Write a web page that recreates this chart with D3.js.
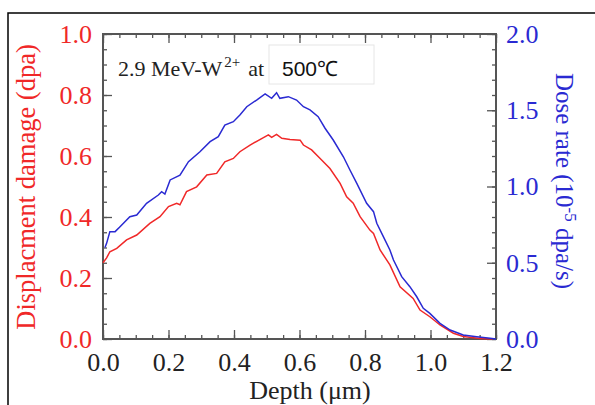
<!DOCTYPE html>
<html>
<head>
<meta charset="utf-8">
<script src="https://cdn.jsdelivr.net/npm/d3@7"></script>
<style>
  body { margin: 0; background: #fff; }
  svg { display: block; }
</style>
</head>
<body>
<div id="chart"></div>
<script>
// displacement damage (left axis, dpa)
var dmgDepth = [0, 0.011, 0.021, 0.042, 0.072, 0.103, 0.143, 0.174, 0.2, 0.225, 0.235, 0.255, 0.286, 0.317, 0.347, 0.372, 0.398, 0.418, 0.449, 0.479, 0.505, 0.515, 0.530, 0.546, 0.571, 0.602, 0.612, 0.637, 0.663, 0.693, 0.724, 0.744, 0.764, 0.785, 0.815, 0.826, 0.846, 0.876, 0.907, 0.947, 0.968, 0.998, 1.029, 1.070, 1.100, 1.151, 1.19];
var dmgValue = [0.25, 0.266, 0.286, 0.297, 0.325, 0.341, 0.379, 0.401, 0.434, 0.445, 0.440, 0.483, 0.499, 0.538, 0.543, 0.581, 0.592, 0.614, 0.636, 0.654, 0.669, 0.661, 0.671, 0.658, 0.654, 0.652, 0.636, 0.620, 0.592, 0.559, 0.510, 0.466, 0.445, 0.401, 0.357, 0.346, 0.292, 0.243, 0.171, 0.133, 0.095, 0.073, 0.046, 0.019, 0.008, 0.002, 0];

// dose rate (right axis, 10^-5 dpa/s)
var rateDepth = [0.006, 0.011, 0.021, 0.037, 0.052, 0.082, 0.103, 0.133, 0.169, 0.179, 0.189, 0.205, 0.235, 0.261, 0.296, 0.327, 0.352, 0.372, 0.398, 0.418, 0.439, 0.469, 0.495, 0.515, 0.530, 0.540, 0.566, 0.591, 0.612, 0.632, 0.657, 0.678, 0.703, 0.734, 0.754, 0.775, 0.805, 0.826, 0.836, 0.856, 0.876, 0.887, 0.912, 0.937, 0.958, 0.978, 0.998, 1.029, 1.060, 1.100, 1.141, 1.182, 1.2];
var rateValue = [0.60, 0.627, 0.704, 0.704, 0.736, 0.802, 0.813, 0.890, 0.944, 0.966, 0.950, 1.043, 1.075, 1.163, 1.228, 1.294, 1.327, 1.403, 1.425, 1.469, 1.523, 1.567, 1.607, 1.578, 1.615, 1.578, 1.589, 1.567, 1.523, 1.502, 1.458, 1.382, 1.305, 1.195, 1.108, 1.021, 0.890, 0.835, 0.759, 0.671, 0.584, 0.518, 0.409, 0.343, 0.277, 0.201, 0.168, 0.103, 0.059, 0.026, 0.015, 0.005, 0];

var xTicks = [0, 0.2, 0.4, 0.6, 0.8, 1.0, 1.2];
var yLeftTicks = [0, 0.2, 0.4, 0.6, 0.8, 1.0];
var yRightTicks = [0, 0.5, 1.0, 1.5, 2.0];

var config = {
    width: 595,
    height: 405,
    left: 103,
    top: 34,
    right: 496,
    bottom: 339,
    red: '#f02828',
    blue: '#2a2ad2',
    frame: '#555',
    serif: '"Liberation Serif", "Times New Roman", serif'
};

var svg = d3.select('#chart').append('svg')
    .attr('width', config.width)
    .attr('height', config.height);

// outer black frame (runs off the page on the right and bottom)
svg.append('rect')
    .attr('x', 8).attr('y', 13)
    .attr('width', 700).attr('height', 500)
    .attr('fill', 'none')
    .attr('stroke', '#000')
    .attr('stroke-width', 1.5);

var x = d3.scaleLinear().domain([0, 1.2]).range([config.left, config.right]);
var yL = d3.scaleLinear().domain([0, 1.0]).range([config.bottom, config.top]);
var yR = d3.scaleLinear().domain([0, 2.0]).range([config.bottom, config.top]);

function styleAxis(g) {
    g.select('.domain').remove();
    g.selectAll('.tick line').attr('stroke', config.frame).attr('stroke-width', 1.3);
}

// minor ticks
svg.append('g').attr('transform', 'translate(0,' + config.bottom + ')')
    .call(d3.axisBottom(x).tickValues(d3.range(0, 1.2001, 0.05)).tickSize(-4).tickFormat(''))
    .call(styleAxis);
svg.append('g').attr('transform', 'translate(0,' + config.top + ')')
    .call(d3.axisTop(x).tickValues(d3.range(0, 1.2001, 0.05)).tickSize(-4).tickFormat(''))
    .call(styleAxis);
svg.append('g').attr('transform', 'translate(' + config.left + ',0)')
    .call(d3.axisLeft(yL).tickValues(d3.range(0, 1.0001, 0.05)).tickSize(-4).tickFormat(''))
    .call(styleAxis);
svg.append('g').attr('transform', 'translate(' + config.right + ',0)')
    .call(d3.axisRight(yR).tickValues(d3.range(0, 2.0001, 0.1)).tickSize(-4).tickFormat(''))
    .call(styleAxis);

// major ticks + labels
var gx = svg.append('g').attr('transform', 'translate(0,' + config.bottom + ')')
    .call(d3.axisBottom(x).tickValues(xTicks).tickSize(-9).tickPadding(14).tickFormat(d3.format('.1f')))
    .call(styleAxis);
gx.selectAll('text').attr('fill', '#222');

svg.append('g').attr('transform', 'translate(0,' + config.top + ')')
    .call(d3.axisTop(x).tickValues(xTicks).tickSize(-9).tickFormat(''))
    .call(styleAxis);

var gl = svg.append('g').attr('transform', 'translate(' + config.left + ',0)')
    .call(d3.axisLeft(yL).tickValues(yLeftTicks).tickSize(-9).tickPadding(11).tickFormat(d3.format('.1f')))
    .call(styleAxis);
gl.selectAll('text').attr('fill', config.red);

var gr = svg.append('g').attr('transform', 'translate(' + config.right + ',0)')
    .call(d3.axisRight(yR).tickValues(yRightTicks).tickSize(-9).tickPadding(10).tickFormat(d3.format('.1f')))
    .call(styleAxis);
gr.selectAll('text').attr('fill', config.blue);

svg.selectAll('.tick text')
    .attr('font-family', config.serif)
    .attr('font-size', 26);

// plot frame
svg.append('rect')
    .attr('x', config.left).attr('y', config.top)
    .attr('width', config.right - config.left)
    .attr('height', config.bottom - config.top)
    .attr('fill', 'none')
    .attr('stroke', config.frame)
    .attr('stroke-width', 2);

// curves
var lineL = d3.line().x(function(d) { return x(d[0]); }).y(function(d) { return yL(d[1]); });
var lineR = d3.line().x(function(d) { return x(d[0]); }).y(function(d) { return yR(d[1]); });

svg.append('path')
    .datum(d3.zip(dmgDepth, dmgValue))
    .attr('d', lineL)
    .attr('fill', 'none')
    .attr('stroke', config.red)
    .attr('stroke-width', 1.5);

svg.append('path')
    .datum(d3.zip(rateDepth, rateValue))
    .attr('d', lineR)
    .attr('fill', 'none')
    .attr('stroke', config.blue)
    .attr('stroke-width', 1.5);

// annotation
svg.append('rect')
    .attr('x', 269).attr('y', 45)
    .attr('width', 105).attr('height', 39)
    .attr('fill', '#fff')
    .attr('stroke', '#e6e6e6')
    .attr('stroke-width', 1);

var note = svg.append('text')
    .attr('x', 118).attr('y', 76)
    .attr('font-family', config.serif)
    .attr('font-size', 22)
    .attr('fill', '#222');
note.append('tspan').text('2.9 MeV-W');
note.append('tspan').attr('dx', 2).attr('dy', -9).attr('font-size', 15).text('2+');
note.append('tspan').attr('dx', 8).attr('dy', 9).text('at');

svg.append('text')
    .attr('x', 282).attr('y', 76)
    .attr('font-family', '"Liberation Sans", Arial, sans-serif')
    .attr('font-size', 21)
    .attr('fill', '#111')
    .text('500\u2103');

// axis titles
svg.append('text')
    .attr('transform', 'translate(35,187) rotate(-90)')
    .attr('text-anchor', 'middle')
    .attr('font-family', config.serif)
    .attr('font-size', 26.5)
    .attr('fill', config.red)
    .text('Displacment damage (dpa)');

var rt = svg.append('text')
    .attr('transform', 'translate(556,181) rotate(90)')
    .attr('text-anchor', 'middle')
    .attr('font-family', config.serif)
    .attr('font-size', 25)
    .attr('fill', config.blue);
rt.append('tspan').text('Dose rate (10');
rt.append('tspan').attr('dy', -9).attr('font-size', 17).text('-5');
rt.append('tspan').attr('dy', 9).text(' dpa/s)');

svg.append('text')
    .attr('x', 310).attr('y', 399)
    .attr('text-anchor', 'middle')
    .attr('font-family', config.serif)
    .attr('font-size', 26)
    .attr('fill', '#222')
    .text('Depth (\u03bcm)');
</script>
</body>
</html>
